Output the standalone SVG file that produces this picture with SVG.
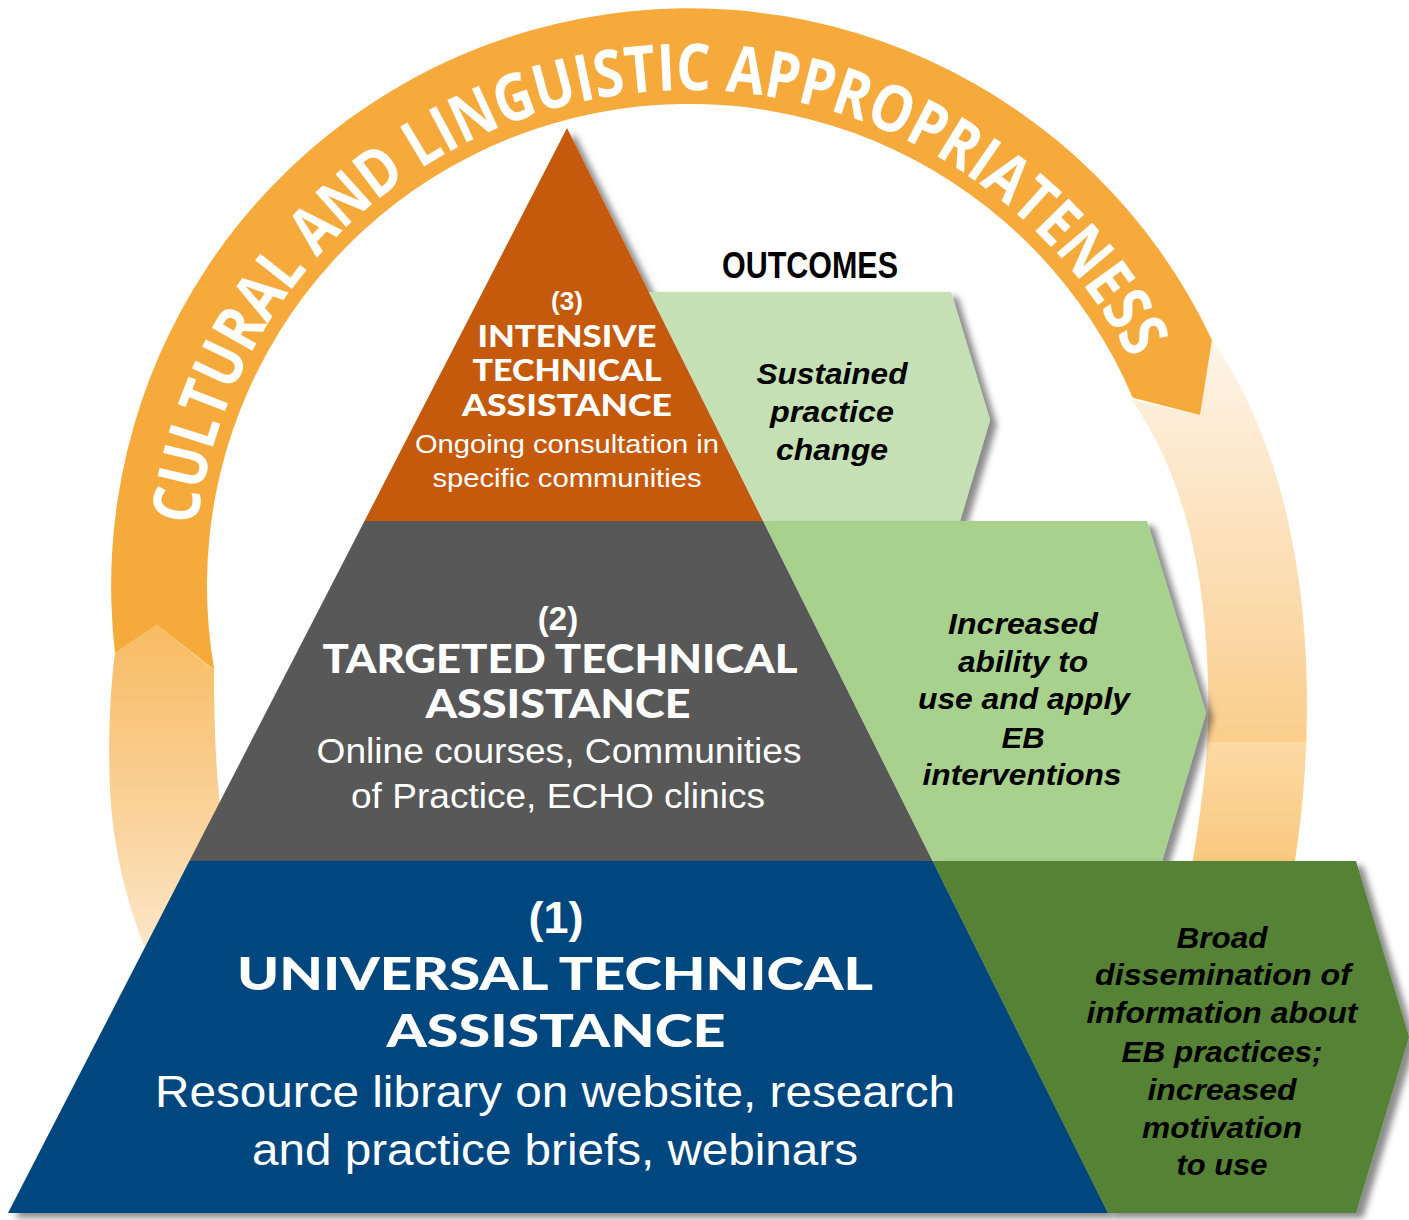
<svg xmlns="http://www.w3.org/2000/svg" width="1409" height="1220" viewBox="0 0 1409 1220">
  <style>
    .ringtxt { font-family: "Open Sans", "Liberation Sans", sans-serif; font-weight: 700; font-size: 65px; fill: #ffffff; }
    .num { font-family: "Liberation Sans", Arial, sans-serif; font-weight: 700; fill: #ffffff; text-anchor: middle; }
    .head { font-family: "Lato", "Liberation Sans", sans-serif; font-weight: 900; fill: #ffffff; text-anchor: middle; }
    .body { font-family: "Liberation Sans", Arial, sans-serif; font-weight: 400; fill: #ffffff; text-anchor: middle; }
    .out { font-family: "Liberation Sans", Arial, sans-serif; font-weight: 700; font-style: italic; fill: #000000; text-anchor: middle; }
    .title { font-family: "Liberation Sans Narrow", "Liberation Sans", Arial, sans-serif; font-weight: 700; fill: #000000; text-anchor: middle; }
  </style>
  <defs>
    <filter id="shadow" x="-10%" y="-10%" width="130%" height="130%">
      <feDropShadow dx="7" dy="5" stdDeviation="3" flood-color="#000000" flood-opacity="0.45"/>
    </filter>
    <linearGradient id="fadeRight" gradientUnits="userSpaceOnUse" x1="0" y1="340" x2="0" y2="880">
      <stop offset="0" stop-color="#FEF4E8"/>
      <stop offset="0.745" stop-color="#FACD8B"/>
      <stop offset="0.745" stop-color="#FCDAA4"/>
      <stop offset="1" stop-color="#F9C679"/>
    </linearGradient>
    <linearGradient id="fadeLeft" gradientUnits="userSpaceOnUse" x1="0" y1="625" x2="0" y2="980">
      <stop offset="0" stop-color="#F8BB62"/>
      <stop offset="0.55" stop-color="#FAD39C"/>
      <stop offset="1" stop-color="#FDEBD3"/>
    </linearGradient>
    <path id="ringPath" d="M 196.7 525.5 A 496 496 0 0 1 1134.8 368.6" fill="none"/>
  </defs>

  <rect x="0" y="0" width="1409" height="1220" fill="#ffffff"/>

  <g id="connectors">
    <g id="ring">
      <path id="ring-fade-left" d="M 115 653 L 157 625 L 214 670 C 214 730 216 790 226 850 L 200 1010 L 168 1000 C 138 940 114 870 110 790 C 108 740 110 690 115 653 Z" fill="url(#fadeLeft)"/>
      <path id="ring-fade-right" d="M 1212 340 C 1262 410 1300 520 1306 660 C 1310 760 1300 830 1292 880 L 1190 880 C 1197 830 1211 760 1208 680 C 1205 560 1180 470 1132 400 L 1200 415 Z" fill="url(#fadeRight)"/>
      <path id="ring-main" d="M 115 653 L 157 625 L 214.3 669.7 A 482 482 0 0 1 1132.7 397.7 L 1200 415 L 1212 339.9 A 578 578 0 0 0 115 653 Z" fill="#F6AA3C"/>
      <text class="ringtxt"><textPath href="#ringPath" textLength="1262" lengthAdjust="spacingAndGlyphs">CULTURAL AND LINGUISTIC APPROPRIATENESS</textPath></text>
    </g>
  </g>

  <g id="pyramid" filter="url(#shadow)">
    <g id="tier1">
      <polygon points="189.4,861 932.5,861 1108,1213 8,1213" fill="#03467F"/>
    </g>
    <g id="tier2">
      <polygon points="364.5,521 763,521 932.5,861 189.4,861" fill="#595959"/>
    </g>
    <g id="tier3">
      <polygon points="567,128 763,521 364.5,521" fill="#C55A11"/>
    </g>
  </g>

  <g id="outcomes">
    <g id="outcome3">
      <polygon points="648.8,292 951,292 990,420 960,521 763,521" fill="#C5E0B4" filter="url(#shadow)"/>
    </g>
    <g id="outcome2">
      <polygon points="763,521 1147,521 1206,713 1162,861 932.5,861" fill="#A9D18E" filter="url(#shadow)"/>
    </g>
    <g id="outcome1">
      <polygon points="932.5,861 1356,861 1409,1037 1356,1213 1108,1213" fill="#548235" filter="url(#shadow)"/>
    </g>
  </g>

  <g id="tier3-text">
    <text class="num" x="567" y="310" font-size="26">(3)</text>
    <text class="head" x="567" y="347" font-size="30" textLength="179" lengthAdjust="spacingAndGlyphs">INTENSIVE</text>
    <text class="head" x="567" y="381" font-size="30" textLength="189" lengthAdjust="spacingAndGlyphs">TECHNICAL</text>
    <text class="head" x="567" y="416" font-size="30" textLength="210" lengthAdjust="spacingAndGlyphs">ASSISTANCE</text>
    <text class="body" x="567" y="453" font-size="26" textLength="304" lengthAdjust="spacingAndGlyphs">Ongoing consultation in</text>
    <text class="body" x="567" y="487" font-size="26" textLength="269" lengthAdjust="spacingAndGlyphs">specific communities</text>
  </g>

  <g id="tier2-text">
    <text class="num" x="558" y="630" font-size="33">(2)</text>
    <text class="head" x="560" y="673" font-size="39" textLength="475" lengthAdjust="spacingAndGlyphs">TARGETED TECHNICAL</text>
    <text class="head" x="558" y="718" font-size="39" textLength="265" lengthAdjust="spacingAndGlyphs">ASSISTANCE</text>
    <text class="body" x="559" y="763" font-size="35" textLength="485" lengthAdjust="spacingAndGlyphs">Online courses, Communities</text>
    <text class="body" x="558" y="808" font-size="35" textLength="414" lengthAdjust="spacingAndGlyphs">of Practice, ECHO clinics</text>
  </g>

  <g id="tier1-text">
    <text class="num" x="556" y="933" font-size="45">(1)</text>
    <text class="head" x="555" y="990" font-size="45" textLength="636" lengthAdjust="spacingAndGlyphs">UNIVERSAL TECHNICAL</text>
    <text class="head" x="556" y="1047" font-size="45" textLength="339" lengthAdjust="spacingAndGlyphs">ASSISTANCE</text>
    <text class="body" x="555" y="1107" font-size="45" textLength="800" lengthAdjust="spacingAndGlyphs">Resource library on website, research</text>
    <text class="body" x="555" y="1165" font-size="45" textLength="606" lengthAdjust="spacingAndGlyphs">and practice briefs, webinars</text>
  </g>

  <g id="outcomes-title">
    <text class="title" x="810" y="278" font-size="37" textLength="176" lengthAdjust="spacingAndGlyphs">OUTCOMES</text>
  </g>

  <g id="outcome3-text">
    <text class="out" x="832" y="384" font-size="30" textLength="151" lengthAdjust="spacingAndGlyphs">Sustained</text>
    <text class="out" x="832" y="422" font-size="30" textLength="124" lengthAdjust="spacingAndGlyphs">practice</text>
    <text class="out" x="832" y="460" font-size="30" textLength="112" lengthAdjust="spacingAndGlyphs">change</text>
  </g>

  <g id="outcome2-text">
    <text class="out" x="1023" y="634" font-size="30" textLength="150" lengthAdjust="spacingAndGlyphs">Increased</text>
    <text class="out" x="1023" y="672" font-size="30" textLength="130" lengthAdjust="spacingAndGlyphs">ability to</text>
    <text class="out" x="1024" y="709" font-size="30" textLength="212" lengthAdjust="spacingAndGlyphs">use and apply</text>
    <text class="out" x="1023" y="748" font-size="30" textLength="43" lengthAdjust="spacingAndGlyphs">EB</text>
    <text class="out" x="1022" y="785" font-size="30" textLength="199" lengthAdjust="spacingAndGlyphs">interventions</text>
  </g>

  <g id="outcome1-text">
    <text class="out" x="1222" y="948" font-size="30" textLength="91" lengthAdjust="spacingAndGlyphs">Broad</text>
    <text class="out" x="1223" y="985" font-size="30" textLength="256" lengthAdjust="spacingAndGlyphs">dissemination of</text>
    <text class="out" x="1222" y="1023" font-size="30" textLength="271" lengthAdjust="spacingAndGlyphs">information about</text>
    <text class="out" x="1222" y="1062" font-size="30" textLength="201" lengthAdjust="spacingAndGlyphs">EB practices;</text>
    <text class="out" x="1222" y="1100" font-size="30" textLength="149" lengthAdjust="spacingAndGlyphs">increased</text>
    <text class="out" x="1222" y="1138" font-size="30" textLength="160" lengthAdjust="spacingAndGlyphs">motivation</text>
    <text class="out" x="1222" y="1175" font-size="30" textLength="91" lengthAdjust="spacingAndGlyphs">to use</text>
  </g>
</svg>
